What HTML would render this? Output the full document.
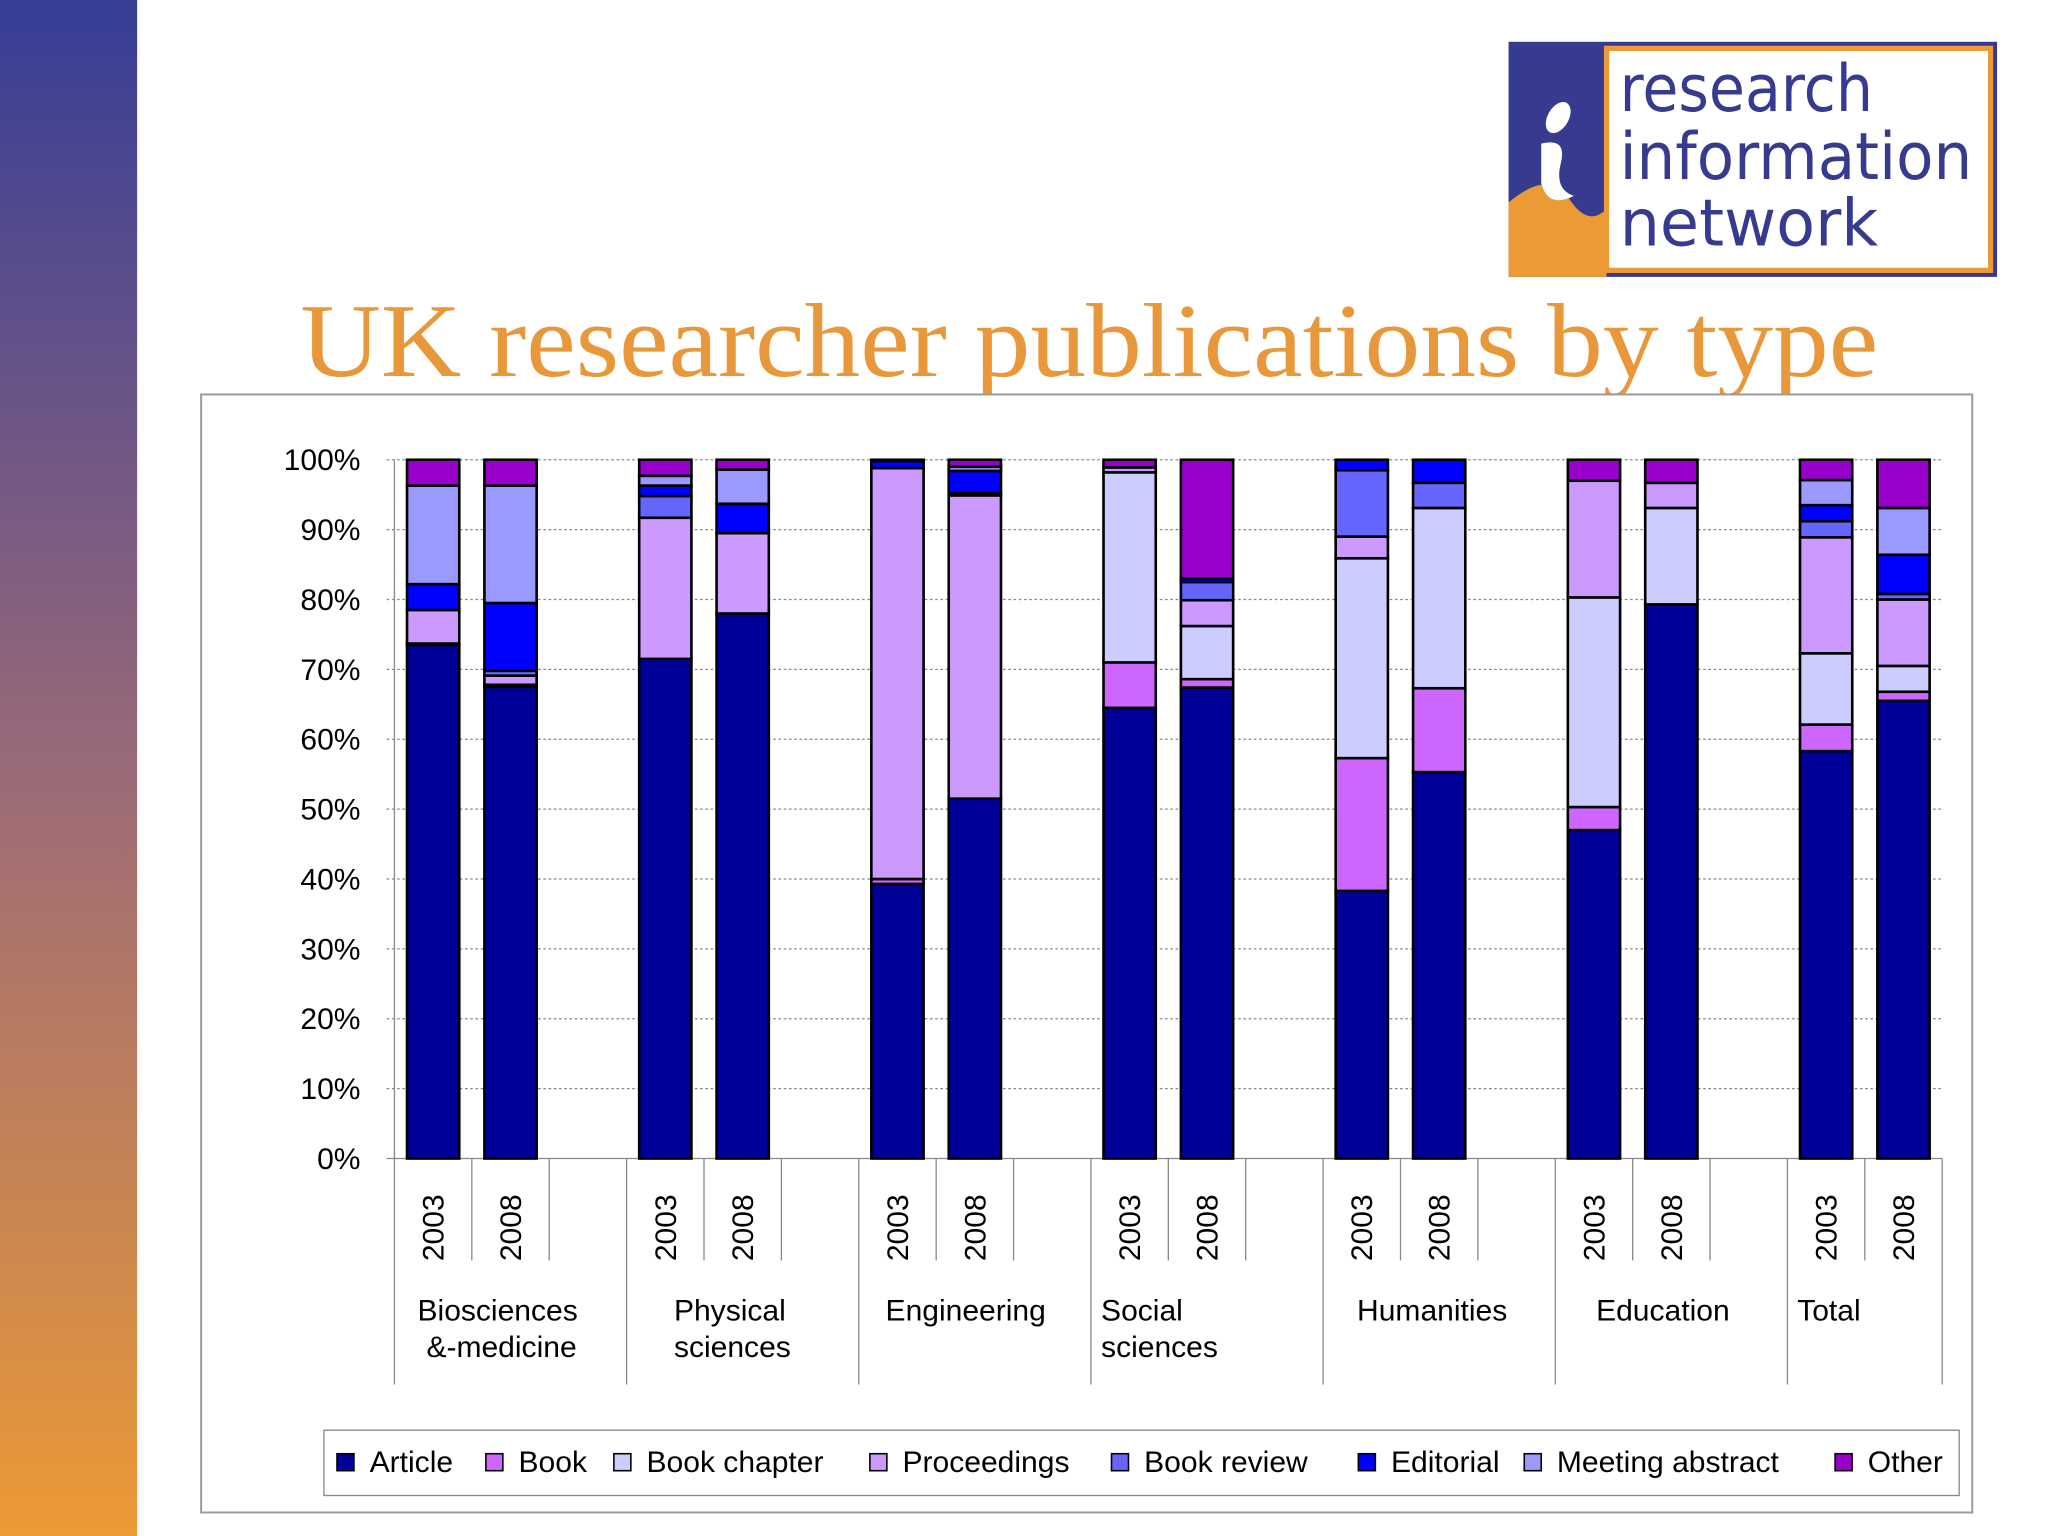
<!DOCTYPE html>
<html><head><meta charset="utf-8"><style>
html,body{margin:0;padding:0;background:#fff;}
svg{display:block;font-family:"Liberation Sans",sans-serif;}
</style></head><body>
<svg id="s" width="2048" height="1536" viewBox="0 0 1568 1176" xmlns="http://www.w3.org/2000/svg">
<defs><linearGradient id="g" x1="0" y1="0" x2="0" y2="1"><stop offset="0" stop-color="#363d96"/><stop offset="0.5" stop-color="#9a6a78"/><stop offset="1" stop-color="#ec9a35"/></linearGradient></defs>
<rect x="0" y="0" width="105" height="1176" fill="url(#g)"/>
<g>
<rect x="1155" y="32" width="374" height="180" fill="#363b8f"/>
<path d="M1155,155 Q1185,130 1200,150 Q1215,175 1230,160 L1230,212 L1155,212 Z" fill="#ec9a35"/>
<ellipse cx="1193" cy="90" rx="8" ry="13" fill="#fff" transform="rotate(30 1193 90)"/>
<path d="M1180,110 Q1200,105 1195,125 Q1190,145 1205,150 Q1185,160 1180,140 Z" fill="#fff"/>
<rect x="1230" y="37" width="294" height="170" fill="#fff" stroke="#ec9a35" stroke-width="4"/>
<text x="1240" y="85" font-family="DejaVu Sans, sans-serif" font-size="50" fill="#363b8f" textLength="194" lengthAdjust="spacingAndGlyphs">research</text>
<text x="1240" y="137" font-family="DejaVu Sans, sans-serif" font-size="50" fill="#363b8f" textLength="270" lengthAdjust="spacingAndGlyphs">information</text>
<text x="1240" y="188" font-family="DejaVu Sans, sans-serif" font-size="50" fill="#363b8f" textLength="198" lengthAdjust="spacingAndGlyphs">network</text>
</g>
<text x="834" y="288" text-anchor="middle" font-family="Liberation Serif, serif" font-size="80" fill="#e8983a" textLength="1208" lengthAdjust="spacingAndGlyphs">UK researcher publications by type</text>
<rect x="154" y="302" width="1356" height="856" fill="#fff" stroke="#999" stroke-width="1.5"/>
<g id="chart"></g>
</svg>
<script>
const seriesNames=["Article","Book","Book chapter","Proceedings","Book review","Editorial","Meeting abstract","Other"];
const groups=[["Biosciences","&-medicine"],["Physical","sciences"],["Engineering"],["Social","sciences"],["Humanities"],["Education"],["Total"]];
const years=["2003","2008"];
const article=[73.5,67.5,71.5,78,39.3,51.5,64.5,67.4,38.3,55.3,47,79.3,58.3,65.5];
const book=[0.2,0,0,0,0.7,0,6.5,1.2,19,12,3.3,0,3.8,1.3];
const chapter=[0,0.3,0,0,0,0,27.2,7.6,28.6,25.8,30,13.8,10.2,3.7];
const proceedings=[4.8,1.3,20.2,11.5,58.8,43.4,0.7,3.7,3.1,0,16.7,3.6,16.6,9.5];
const review=[0,0.7,3.1,0,0,0.3,0,2.6,9.5,3.6,0,0,2.3,0.8];
const editorial=[3.7,9.7,1.5,4.2,1.0,3.2,0,0.5,1.5,3.3,0,0,2.3,5.6];
const meeting=[14.1,16.8,1.4,4.9,0,0.6,0,0,0,0,0,0,3.6,6.7];
const other=[3.7,3.7,2.3,1.4,0.2,1.0,1.1,17,0,0,3,3.3,2.9,6.9];
const yTicks=[0,10,20,30,40,50,60,70,80,90,100];
const colors=["#000099","#cc66ff","#ccccff","#cc99ff","#6666ff","#0000ff","#9999ff","#9900cc"];
const series=[article,book,chapter,proceedings,review,editorial,meeting,other];
const NS="http://www.w3.org/2000/svg";
const ch=document.getElementById('chart');
const X0=302,X1=1487,Y0=887,Y100=352,slots=20,slotW=(X1-X0)/slots,barW=40;
const y=v=>Y0-(v/100)*(Y0-Y100);
function mk(t,a,p){const e=document.createElementNS(NS,t);for(const k in a)e.setAttribute(k,a[k]);(p||ch).appendChild(e);return e;}
yTicks.forEach(t=>{
 const l=mk('line',{x1:X0-6,x2:X1,y1:y(t),y2:y(t),stroke:'#888','stroke-width':1,'stroke-dasharray':t===0?'':'2,2'});
 
 
 const tx=mk('text',{x:276,y:y(t)+8,'text-anchor':'end','font-size':23,fill:'#000'});tx.textContent=t+'%';
 
 
});
mk('line',{x1:X0,x2:X0,y1:Y100,y2:Y0,stroke:'#888'});
const slotOf=i=>Math.floor(i/2)*3+(i%2);
for(let i=0;i<article.length;i++){
 const cx=X0+(slotOf(i)+0.5)*slotW;let cum=0;
 series.forEach((s,k)=>{const v=s[i];if(v<=0){return;}
  const r=mk('rect',{x:cx-barW/2,y:y(cum+v),width:barW,height:y(cum)-y(cum+v),fill:colors[k],stroke:'#000','stroke-width':2});
  
  
  cum+=v;});
 const yt=mk('text',{x:0,y:0,'font-size':23,'text-anchor':'middle',transform:`translate(${cx+8},940) rotate(-90)`});yt.textContent=years[i%2];
 
 
}
for(let s=0;s<=slots;s++){const gx=X0+s*slotW;const major=(s%3===0)||s===slots;
 mk('line',{x1:gx,x2:gx,y1:Y0,y2:major?1060:965,stroke:'#888'});}
const gpos=[[381,384],[516,516],[678],[843,843],[1039],[1222],[1376]];
const ganch=[['middle','middle'],['start','start'],['start'],['start','start'],['start'],['start'],['start']];
groups.forEach((g,gi)=>{g.forEach((ln,li)=>{const t=mk('text',{x:gpos[gi][li],y:1011+li*28,'font-size':23,'text-anchor':ganch[gi][li]});t.textContent=ln;
 
 });});
const lg=mk('g',{});


mk('rect',{x:248,y:1095,width:1252,height:50,fill:'#fff',stroke:'#888'},lg);
const lx=[258,372,470,666,851,1040,1167,1405];
seriesNames.forEach((n,k)=>{
 const sw=mk('rect',{x:lx[k],y:1113,width:13,height:13,fill:colors[k],stroke:'#000','stroke-width':1.2},lg);
 
 
 const t=mk('text',{x:lx[k]+25,y:1127,'font-size':23},lg);t.textContent=n;
 
 
});
</script>
</body></html>
